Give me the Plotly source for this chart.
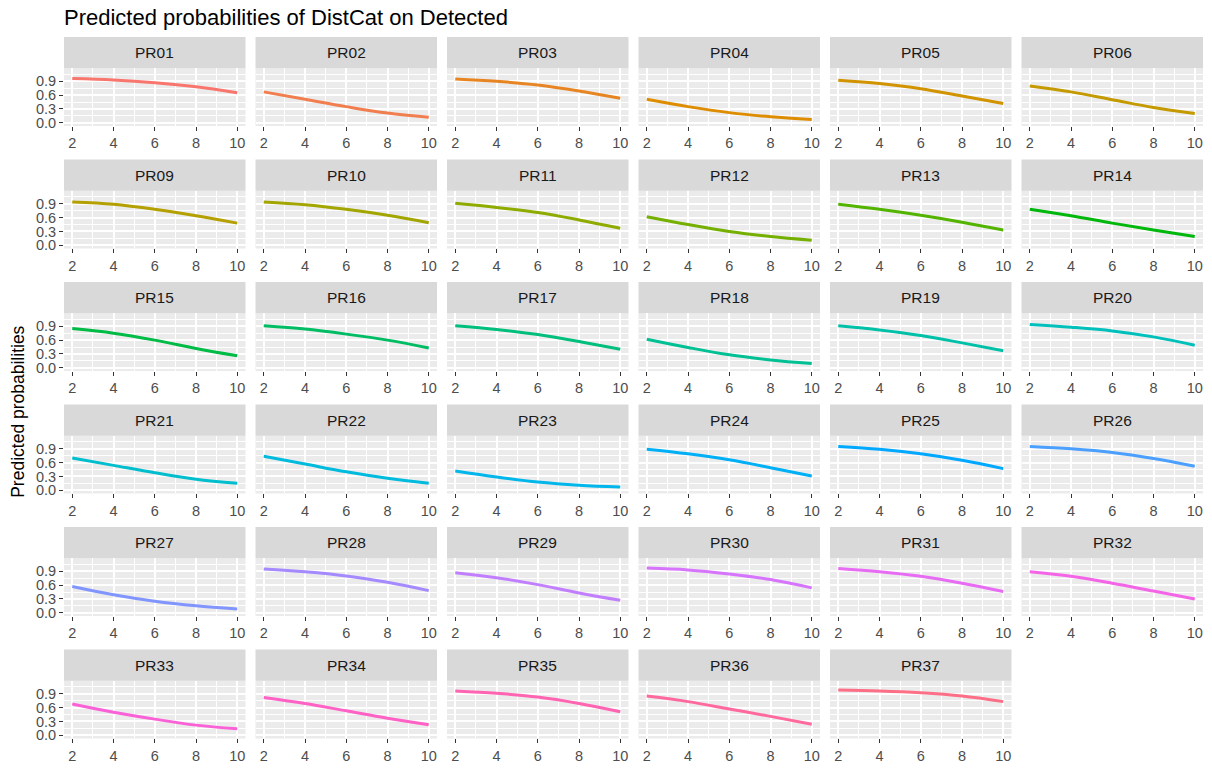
import math
import plotly.graph_objects as go

# ---------------- data ----------------
panels = ["PR01", "PR02", "PR03", "PR04", "PR05", "PR06",
          "PR09", "PR10", "PR11", "PR12", "PR13", "PR14",
          "PR15", "PR16", "PR17", "PR18", "PR19", "PR20",
          "PR21", "PR22", "PR23", "PR24", "PR25", "PR26",
          "PR27", "PR28", "PR29", "PR30", "PR31", "PR32",
          "PR33", "PR34", "PR35", "PR36", "PR37"]

dist_cat = [2, 4, 6, 8, 10]

pr01 = [0.96, 0.93, 0.87, 0.78, 0.65]
pr02 = [0.67, 0.51, 0.35, 0.21, 0.12]
pr03 = [0.95, 0.90, 0.82, 0.69, 0.53]
pr04 = [0.51, 0.35, 0.22, 0.13, 0.07]
pr05 = [0.92, 0.85, 0.74, 0.58, 0.42]
pr06 = [0.80, 0.67, 0.50, 0.33, 0.20]
pr09 = [0.94, 0.89, 0.78, 0.64, 0.48]
pr10 = [0.94, 0.88, 0.78, 0.65, 0.49]
pr11 = [0.91, 0.82, 0.71, 0.55, 0.37]
pr12 = [0.62, 0.45, 0.30, 0.19, 0.11]
pr13 = [0.89, 0.78, 0.65, 0.50, 0.33]
pr14 = [0.78, 0.64, 0.48, 0.33, 0.19]
pr15 = [0.85, 0.75, 0.60, 0.42, 0.26]
pr16 = [0.91, 0.84, 0.73, 0.60, 0.43]
pr17 = [0.91, 0.83, 0.72, 0.57, 0.40]
pr18 = [0.62, 0.44, 0.28, 0.17, 0.09]
pr19 = [0.91, 0.82, 0.70, 0.54, 0.37]
pr20 = [0.94, 0.88, 0.80, 0.67, 0.49]
pr21 = [0.70, 0.54, 0.38, 0.24, 0.15]
pr22 = [0.74, 0.57, 0.40, 0.26, 0.15]
pr23 = [0.42, 0.29, 0.18, 0.11, 0.07]
pr24 = [0.89, 0.79, 0.66, 0.49, 0.31]
pr25 = [0.95, 0.89, 0.79, 0.65, 0.47]
pr26 = [0.95, 0.90, 0.82, 0.69, 0.52]
pr27 = [0.57, 0.39, 0.25, 0.15, 0.08]
pr28 = [0.95, 0.89, 0.80, 0.66, 0.48]
pr29 = [0.87, 0.76, 0.61, 0.43, 0.27]
pr30 = [0.97, 0.93, 0.84, 0.72, 0.54]
pr31 = [0.96, 0.89, 0.79, 0.64, 0.46]
pr32 = [0.89, 0.79, 0.64, 0.47, 0.30]
pr33 = [0.68, 0.50, 0.35, 0.22, 0.14]
pr34 = [0.82, 0.69, 0.53, 0.37, 0.23]
pr35 = [0.96, 0.91, 0.83, 0.69, 0.51]
pr36 = [0.85, 0.73, 0.57, 0.41, 0.24]
pr37 = [0.98, 0.96, 0.92, 0.85, 0.73]

series = [pr01, pr02, pr03, pr04, pr05, pr06, pr09, pr10, pr11, pr12, pr13, pr14,
          pr15, pr16, pr17, pr18, pr19, pr20, pr21, pr22, pr23, pr24, pr25, pr26,
          pr27, pr28, pr29, pr30, pr31, pr32, pr33, pr34, pr35, pr36, pr37]

y_ticks = [0.0, 0.3, 0.6, 0.9]
y_tick_labels = ["0.0", "0.3", "0.6", "0.9"]
x_ticks = [2, 4, 6, 8, 10]
x_tick_labels = ["2", "4", "6", "8", "10"]

title_text = "Predicted probabilities of DistCat on Detected"
y_title = "Predicted probabilities"


# ---------------- ggplot-like hue palette ----------------
def hcl_to_hex(h, c, l):
    Xn, Yn, Zn = 95.047, 100.0, 108.883
    hr = math.radians(h)
    U = c * math.cos(hr)
    V = c * math.sin(hr)
    if l <= 0:
        return "#000000"
    Y = Yn * (((l + 16) / 116) ** 3 if l > 8 else l / 903.296)
    t = Xn + 15 * Yn + 3 * Zn
    un, vn = 4 * Xn / t, 9 * Yn / t
    up = U / (13 * l) + un
    vp = V / (13 * l) + vn
    X = 9.0 * Y * up / (4 * vp)
    Z = -X / 3 - 5 * Y + 3 * Y / vp
    X, Y, Z = X / 100, Y / 100, Z / 100
    r = 3.240479 * X - 1.537150 * Y - 0.498535 * Z
    g = -0.969256 * X + 1.875992 * Y + 0.041556 * Z
    b = 0.055648 * X - 0.204043 * Y + 1.057311 * Z

    def gam(v):
        v = 1.055 * v ** (1 / 2.4) - 0.055 if v > 0.00304 else 12.92 * v
        return max(0, min(255, int(round(255 * v))))
    return "#%02X%02X%02X" % (gam(r), gam(g), gam(b))


n = len(panels)
colors = [hcl_to_hex(15 + i * 360 / n, 100, 65) for i in range(n)]

# ---------------- layout geometry (pixels) ----------------
W, H = 1212, 771
L0, CW, CSTEP = 64.0, 181.5, 191.5
S0, RSTEP, STRIP_H, PANEL_BOTTOM = 37.3, 123.3, 31.3, 89.5
NCOL = 6

FONT = "Liberation Sans, Arial, sans-serif"
TICK_SIZE = 14.5

fig = go.Figure()
layout = dict(
    width=W, height=H, autosize=False,
    margin=dict(l=0, r=0, t=0, b=0),
    paper_bgcolor="white", plot_bgcolor="#EBEBEB",
    showlegend=False,
    font=dict(family=FONT, color="#4D4D4D", size=TICK_SIZE),
)
shapes = []
annotations = []

for k, (name, vals) in enumerate(zip(panels, series)):
    row, col = divmod(k, NCOL)
    left = L0 + col * CSTEP
    top = S0 + row * RSTEP
    idx = "" if k == 0 else str(k + 1)
    xd = [left / W, (left + CW) / W]
    yd = [1 - (top + PANEL_BOTTOM) / H, 1 - (top + STRIP_H) / H]

    fig.add_trace(go.Scatter(
        x=dist_cat, y=vals, mode="lines",
        line=dict(color=colors[k], width=3, shape="spline", smoothing=1.0),
        xaxis="x" + idx, yaxis="y" + idx, name=name, hoverinfo="x+y+name",
    ))

    layout["xaxis" + idx] = dict(
        domain=xd, anchor="y" + idx, range=[1.6, 10.4],
        tickmode="array", tickvals=x_ticks, ticktext=x_tick_labels,
        ticks="outside", ticklen=4, tickwidth=1.1, tickcolor="#333333",
        showgrid=True, gridcolor="white", gridwidth=2,
        minor=dict(tickvals=[3, 5, 7, 9], showgrid=True, gridcolor="white",
                   gridwidth=1, ticks=""),
        zeroline=False, showline=False,
        tickfont=dict(family=FONT, size=TICK_SIZE, color="#4D4D4D"),
        fixedrange=True,
    )
    ycfg = dict(
        domain=yd, anchor="x" + idx, range=[-0.07, 1.185],
        tickmode="array", tickvals=y_ticks, ticktext=y_tick_labels,
        showgrid=True, gridcolor="white", gridwidth=2,
        minor=dict(tickvals=[0.15, 0.45, 0.75, 1.05], showgrid=True,
                   gridcolor="white", gridwidth=1, ticks=""),
        zeroline=False, showline=False,
        tickfont=dict(family=FONT, size=TICK_SIZE, color="#4D4D4D"),
        fixedrange=True,
    )
    if col == 0:
        ycfg.update(ticks="outside", ticklen=4, tickwidth=1.1,
                    tickcolor="#333333", showticklabels=True)
    else:
        ycfg.update(ticks="", showticklabels=False)
    layout["yaxis" + idx] = ycfg

    # facet strip
    shapes.append(dict(type="rect", xref="paper", yref="paper",
                       x0=left / W, x1=(left + CW) / W,
                       y0=1 - (top + STRIP_H) / H, y1=1 - top / H,
                       fillcolor="#D9D9D9", line=dict(width=0), layer="below"))
    annotations.append(dict(text=name, xref="paper", yref="paper",
                            x=(left + CW / 2) / W, y=1 - (top + STRIP_H / 2) / H,
                            xanchor="center", yanchor="middle", showarrow=False,
                            font=dict(family=FONT, size=15.5, color="#1A1A1A")))

annotations.append(dict(text=title_text, xref="paper", yref="paper",
                        x=62 / W, y=1 - 17.5 / H, xanchor="left", yanchor="middle",
                        showarrow=False,
                        font=dict(family=FONT, size=22, color="black")))
annotations.append(dict(text=y_title, xref="paper", yref="paper",
                        x=18.5 / W, y=1 - 415 / H, xanchor="center", yanchor="middle",
                        textangle=-90, showarrow=False,
                        font=dict(family=FONT, size=17.5, color="black")))

layout["shapes"] = shapes
layout["annotations"] = annotations
fig.update_layout(**layout)

fig.write_html("out.html", config={"displayModeBar": False},
               post_script="document.body.style.margin='0';document.body.style.overflow='hidden';")
